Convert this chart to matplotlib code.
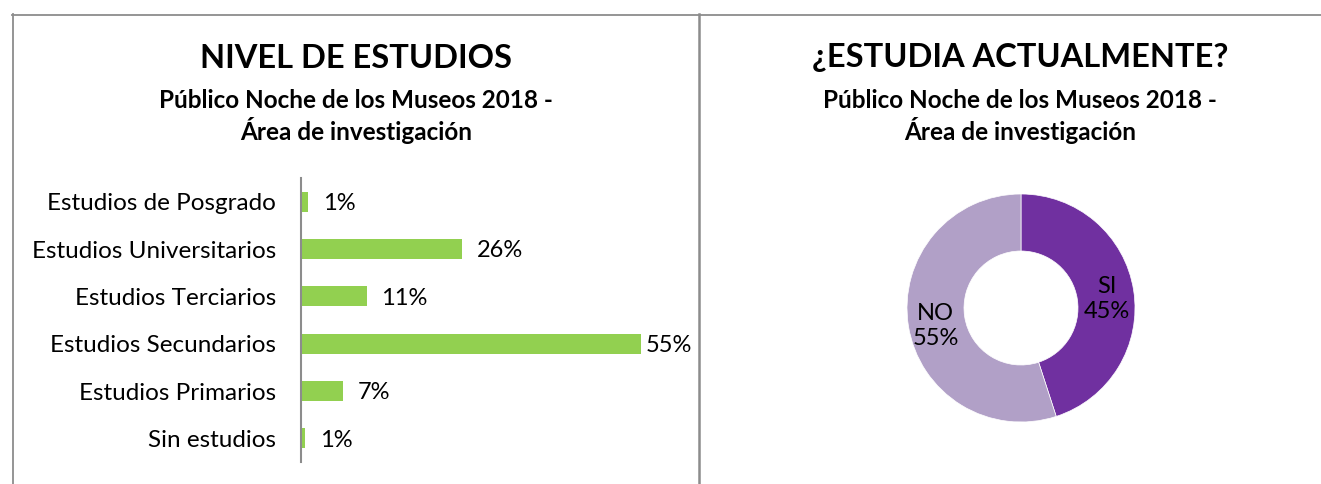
import matplotlib.pyplot as plt
import numpy as np
from matplotlib.lines import Line2D

# data
niveles = ["Sin estudios", "Estudios Primarios", "Estudios Secundarios",
           "Estudios Terciarios", "Estudios Universitarios", "Estudios de Posgrado"]
niveles_pct = [0.6, 6.8, 55.0, 10.6, 26.0, 1.1]
niveles_labels = ["1%", "7%", "55%", "11%", "26%", "1%"]

estudia = ["SI", "NO"]
estudia_pct = [45, 55]

W, H = 1321, 484
plt.rcParams["font.family"] = ["Lato", "DejaVu Sans"]

fig = plt.figure(figsize=(W / 100, H / 100), dpi=100)


def fx(px):
    return px / W


def fy(py):
    return 1 - py / H


# panel borders
border = "#8c8c8c"
fig.add_artist(Line2D([fx(12), fx(W)], [fy(14.5), fy(14.5)], color=border, lw=1.3))
fig.add_artist(Line2D([fx(12.5), fx(12.5)], [fy(14), 0], color=border, lw=1.3))
fig.add_artist(Line2D([fx(699), fx(699)], [fy(14), 0], color=border, lw=1.8))

title_kw = dict(ha="center", va="center", fontsize=23.5, fontweight="bold")
sub_kw = dict(ha="center", va="center", fontsize=17.5, fontweight="bold")

# left panel: titles
fig.text(fx(356), fy(58), "NIVEL DE ESTUDIOS", **title_kw)
fig.text(fx(356), fy(101), "Público Noche de los Museos 2018 -", **sub_kw)
fig.text(fx(356), fy(130), "Área de investigación", **sub_kw)

# bar chart
ax = fig.add_axes([fx(301), fy(462), fx(380), (462 - 178) / H])
y = range(len(niveles))
ax.barh(y, niveles_pct, height=0.42, color="#92D050")
for yi, v, lab in zip(y, niveles_pct, niveles_labels):
    gap = 0.8 if v == max(niveles_pct) else 2.4
    ax.text(v + gap, yi - 0.04, lab, va="center", ha="left", fontsize=17)
ax.set_yticks(list(y))
ax.set_yticklabels(niveles, fontsize=17.5)
ax.tick_params(axis="y", length=0, pad=18)
ax.set_xlim(0, 55 * 380 / 340)
ax.set_ylim(-0.5, len(niveles) - 0.5)
ax.set_xticks([])
for s in ["top", "right", "bottom"]:
    ax.spines[s].set_visible(False)
ax.spines["left"].set_color("#8c8c8c")
ax.spines["left"].set_linewidth(1.5)

# right panel: titles
fig.text(fx(1020), fy(58), "¿ESTUDIA ACTUALMENTE?", **title_kw)
fig.text(fx(1020), fy(101), "Público Noche de los Museos 2018 -", **sub_kw)
fig.text(fx(1020), fy(130), "Área de investigación", **sub_kw)

# donut
r = 114
ax2 = fig.add_axes([fx(1021 - r), fy(308 + r), fx(2 * r), 2 * r / H])
wedges, _ = ax2.pie(estudia_pct, colors=["#7030A0", "#B1A0C7"], startangle=90,
                    counterclock=False, radius=1,
                    wedgeprops=dict(width=0.5, edgecolor="white", linewidth=0.5))
for w, name, p in zip(wedges, estudia, estudia_pct):
    ang = np.deg2rad((w.theta1 + w.theta2) / 2)
    ax2.text(0.76 * np.cos(ang), 0.76 * np.sin(ang) - 0.04, f"{name}\n{p}%",
             ha="center", va="center", fontsize=17, linespacing=1.2)
ax2.set_xlim(-1, 1)
ax2.set_ylim(-1, 1)

fig.savefig("out.png", dpi=100)
